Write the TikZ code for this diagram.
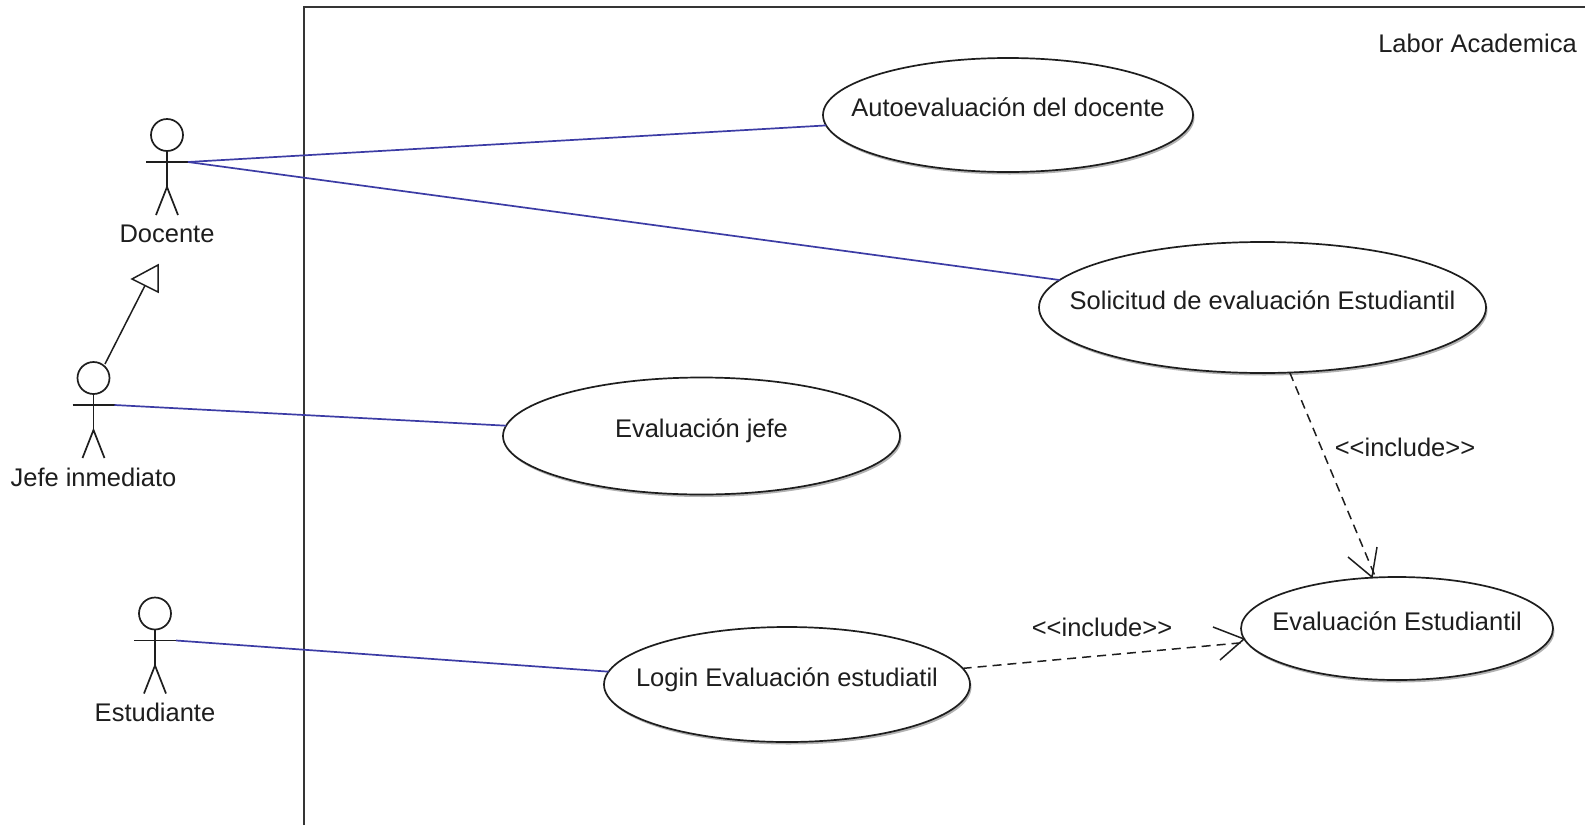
\documentclass[tikz,border=0pt]{standalone}
\usepackage{fontspec}
\setmainfont{Liberation Sans}
\usetikzlibrary{shapes.geometric,shadows}
\definecolor{assoc}{HTML}{3C3CA5}
\definecolor{ink}{HTML}{1E1E1E}
\tikzset{
  x=1pt,y=-1pt,
  every node/.style={text=ink,font=\fontsize{25.5}{28}\selectfont},
  usecase/.style={ellipse,draw=ink,fill=white,line width=1.7pt,inner ysep=0pt,inner xsep=-60pt,outer sep=0pt,
    text height=18pt,text depth=15pt,
    drop shadow={shadow xshift=1.5pt,shadow yshift=-2.5pt,opacity=.3,fill=black}},
  actorhead/.style={circle,draw=ink,fill=white,line width=1.7pt,minimum size=32pt,inner sep=0pt,outer sep=0pt},
  actorlimb/.style={draw=ink,line width=1.7pt},
  assocline/.style={draw=assoc,line width=1.7pt},
  includeline/.style={draw=ink,line width=1.5pt,dash pattern=on 9pt off 6pt},
  barb/.style={draw=ink,line width=1.5pt},
  genline/.style={draw=ink,line width=1.5pt},
  framebox/.style={draw=ink!90,line width=1.8pt},
}
\newcommand{\umlactor}[4]{% name, x, head y, label
  \node[actorhead] (#1) at (#2,#3) {};
  \coordinate (#1hand) at (#2+21,#3+27);
  \coordinate (#1lhand) at (#2-21,#3+27);
  \coordinate (#1hip) at (#2,#3+52);
  \coordinate (#1lfoot) at (#2-11,#3+80);
  \coordinate (#1rfoot) at (#2+11,#3+80);
  \draw[actorlimb] (#1.south) -- (#2,#3+52);
  \draw[actorlimb] (#1lhand) -- (#1hand);
  \draw[actorlimb] (#1lfoot) -- (#1hip) -- (#1rfoot);
  \node (#1label) at (#2,#3+99) {#4};
}
\begin{document}
\begin{tikzpicture}
\useasboundingbox[fill=white] (0,0) rectangle (1585,825);
\draw[framebox] (304,825) -- (304,7) -- (1585,7);
\node (system) at (1477.5,43) {Labor Academica};

\node[usecase,minimum width=370pt,minimum height=114pt] (auto) at (1008,115) {Autoevaluación del docente};
\node[usecase,minimum width=447pt,minimum height=131pt] (soli) at (1262.5,307.5) {Solicitud de evaluación Estudiantil};
\node[usecase,minimum width=397pt,minimum height=117pt] (jefe) at (701.5,436) {Evaluación jefe};
\node[usecase,minimum width=366pt,minimum height=115pt] (login) at (787,684.5) {Login Evaluación estudiatil};
\node[usecase,minimum width=312pt,minimum height=103pt] (eval) at (1397,628.5) {Evaluación Estudiantil};

\umlactor{docente}{167}{135}{Docente}
\umlactor{inmediato}{93.5}{378}{Jefe inmediato}
\umlactor{estudiante}{155}{613.5}{Estudiante}

\draw[assocline] (docentehand) -- (auto);
\draw[assocline] (docentehand) -- (soli);
\draw[assocline] (inmediatohand) -- (jefe);
\draw[assocline] (estudiantehand) -- (login);

% generalisation
\coordinate (genbase) at (145,285.5);
\draw[genline] (inmediato) ++(11.5,-14) -- (genbase);
\draw[genline] (132,279) -- (158,292) -- (158,265) -- cycle;

% includes
\draw[includeline] (soli) -- (eval);
\draw[barb] (1348,557) -- (1372,577) -- (1377,547);
\node (inc1) at (1405,447) {<{}<include>{}>};
\draw[includeline] (login) -- (eval);
\draw[barb] (1213,627) -- (1244,639) -- (1220,660);
\node (inc2) at (1102,627) {<{}<include>{}>};
\end{tikzpicture}
\end{document}
